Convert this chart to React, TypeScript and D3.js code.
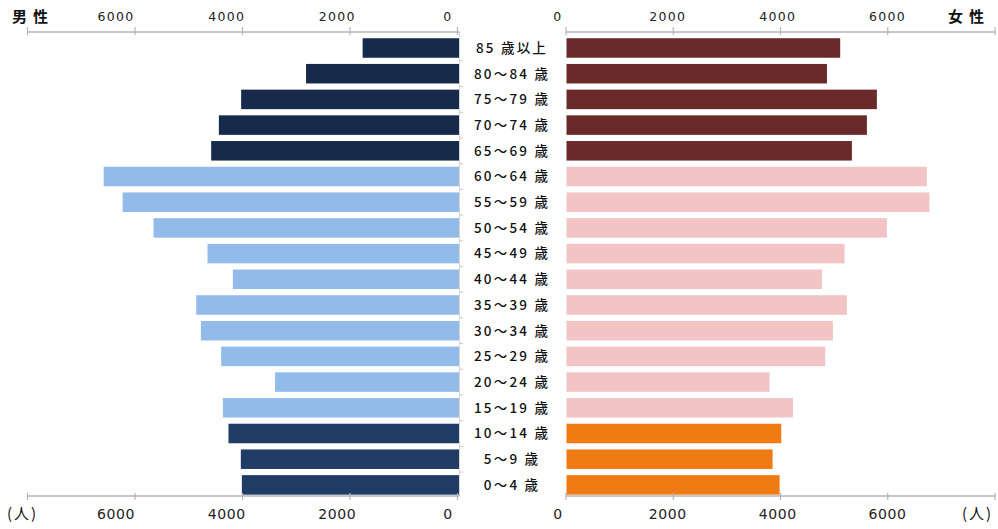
import React from "react";
import * as d3 from "d3";

// Age groups, oldest at the top
const ageGroups = [
  "85 歳以上", "80～84 歳", "75～79 歳", "70～74 歳", "65～69 歳",
  "60～64 歳", "55～59 歳", "50～54 歳", "45～49 歳", "40～44 歳",
  "35～39 歳", "30～34 歳", "25～29 歳", "20～24 歳", "15～19 歳",
  "10～14 歳", "5～9 歳", "0～4 歳",
];

// Population (persons)
const male = [
  1765, 2818, 4025, 4440, 4583, 6583, 6230, 5655, 4651, 4180,
  4861, 4774, 4397, 3394, 4365, 4261, 4031, 4012,
];
const female = [
  5104, 4857, 5788, 5602, 5322, 6719, 6768, 5974, 5185, 4763,
  5229, 4968, 4825, 3787, 4223, 4005, 3843, 3974,
];

// Age bracket of each row: elderly / working age / children
const bracket = [
  "old", "old", "old", "old", "old",
  "work", "work", "work", "work", "work", "work", "work", "work", "work", "work",
  "young", "young", "young",
];

const tickValues = [0, 2000, 4000, 6000, 8000];
const labelValues = [0, 2000, 4000, 6000];

const maleColors: Record<string, string> = {
  old: "#172a4b",
  work: "#93bbe9",
  young: "#1f3c65",
};
const femaleColors: Record<string, string> = {
  old: "#6a2a29",
  work: "#f3c4c5",
  young: "#f07b14",
};

const W = 998;
const H = 529;
const topAxisY = 32;
const bottomAxisY = 496;
const axisColor = "#b4b4b4";
const numFont = "'DejaVu Sans', 'Noto Sans CJK JP', sans-serif";
const jpFont = "'Noto Sans CJK JP', 'DejaVu Sans', sans-serif";

export default function App() {
  const xLeft = d3.scaleLinear().domain([0, 8000]).range([457.5, 27.5]);
  const xRight = d3.scaleLinear().domain([0, 8000]).range([566, 995]);
  // tick labels sit slightly off their ticks
  const labelLeft = d3.scaleLinear().domain([0, 6000]).range([448, 116]);
  const labelRight = d3.scaleLinear().domain([0, 6000]).range([558, 887.5]);

  const y = d3
    .scaleBand<string>()
    .domain(ageGroups)
    .range([35.15, 497.75])
    .paddingInner(0.24)
    .paddingOuter(0.12);

  const bh = y.bandwidth();
  const step = y.step();

  const axis = (ay: number, tickUp: number, tickDown: number) => (
    <g>
      <line x1={xLeft(8000)} x2={xLeft(0) + 2} y1={ay} y2={ay} stroke={axisColor} strokeWidth={1.5} />
      <line x1={xRight(0)} x2={xRight(8000)} y1={ay} y2={ay} stroke={axisColor} strokeWidth={1.5} />
      {tickValues.map((v) => (
        <g key={v}>
          <line x1={xLeft(v)} x2={xLeft(v)} y1={ay - tickUp} y2={ay + tickDown} stroke={axisColor} strokeWidth={1.2} />
          <line x1={xRight(v)} x2={xRight(v)} y1={ay - tickUp} y2={ay + tickDown} stroke={axisColor} strokeWidth={1.2} />
        </g>
      ))}
    </g>
  );

  return (
    <svg width={W} height={H} style={{ position: "absolute", left: 0, top: 0, background: "#fff" }}>
      {/* male bars */}
      {ageGroups.map((g, i) => (
        <rect
          key={"m" + g}
          x={xLeft(male[i])}
          y={y(g)}
          width={xLeft(0) - xLeft(male[i]) + 1.5}
          height={bh}
          fill={maleColors[bracket[i]]}
        />
      ))}
      {/* female bars */}
      {ageGroups.map((g, i) => (
        <rect
          key={"f" + g}
          x={xRight(0) + 0.5}
          y={y(g)}
          width={xRight(female[i]) - xRight(0)}
          height={bh}
          fill={femaleColors[bracket[i]]}
        />
      ))}

      {/* category axis line beside the male bars */}
      <line x1={459.5} x2={459.5} y1={topAxisY} y2={bottomAxisY} stroke="#d6d6d6" strokeWidth={1} />
      {ageGroups.map((g, i) =>
        i === 0 ? null : (
          <line
            key={"ct" + g}
            x1={459.5}
            x2={463}
            y1={(y(g) as number) - (step - bh) / 2}
            y2={(y(g) as number) - (step - bh) / 2}
            stroke="#c8c8c8"
            strokeWidth={1}
          />
        )
      )}

      {/* age labels */}
      {ageGroups.map((g) => (
        <text
          key={"l" + g}
          x={512}
          y={(y(g) as number) + bh / 2}
          dy="0.36em"
          textAnchor="middle"
          fontFamily={jpFont}
          fontSize={13.5}
          fontWeight={500}
          letterSpacing={2.2}
          fill="#111"
        >
          {g}
        </text>
      ))}

      {axis(topAxisY, 5, 3)}
      {axis(bottomAxisY, 3, 4)}

      {/* top tick labels */}
      {labelValues.map((v) => (
        <g key={"tl" + v}>
          <text x={labelLeft(v)} y={21} textAnchor="middle" fontFamily={numFont} fontSize={12.5} letterSpacing={1.3} fill="#222">
            {v}
          </text>
          <text x={labelRight(v)} y={21} textAnchor="middle" fontFamily={numFont} fontSize={12.5} letterSpacing={1.3} fill="#222">
            {v}
          </text>
        </g>
      ))}
      {/* bottom tick labels */}
      {labelValues.map((v) => (
        <g key={"bl" + v}>
          <text x={labelLeft(v)} y={519} textAnchor="middle" fontFamily={numFont} fontSize={14} letterSpacing={0.6} fill="#222">
            {v}
          </text>
          <text x={labelRight(v)} y={519} textAnchor="middle" fontFamily={numFont} fontSize={14} letterSpacing={0.6} fill="#222">
            {v}
          </text>
        </g>
      ))}

      {/* titles and units */}
      <text x={12} y={22} fontFamily={jpFont} fontSize={15} fontWeight={700} letterSpacing={6} fill="#111">男性</text>
      <text x={948} y={22} fontFamily={jpFont} fontSize={15} fontWeight={700} letterSpacing={6} fill="#111">女性</text>
      <text x={7} y={519} fontFamily={jpFont} fontSize={15} letterSpacing={2} fill="#111">(人)</text>
      <text x={962} y={519} fontFamily={jpFont} fontSize={15} letterSpacing={2} fill="#111">(人)</text>
    </svg>
  );
}
